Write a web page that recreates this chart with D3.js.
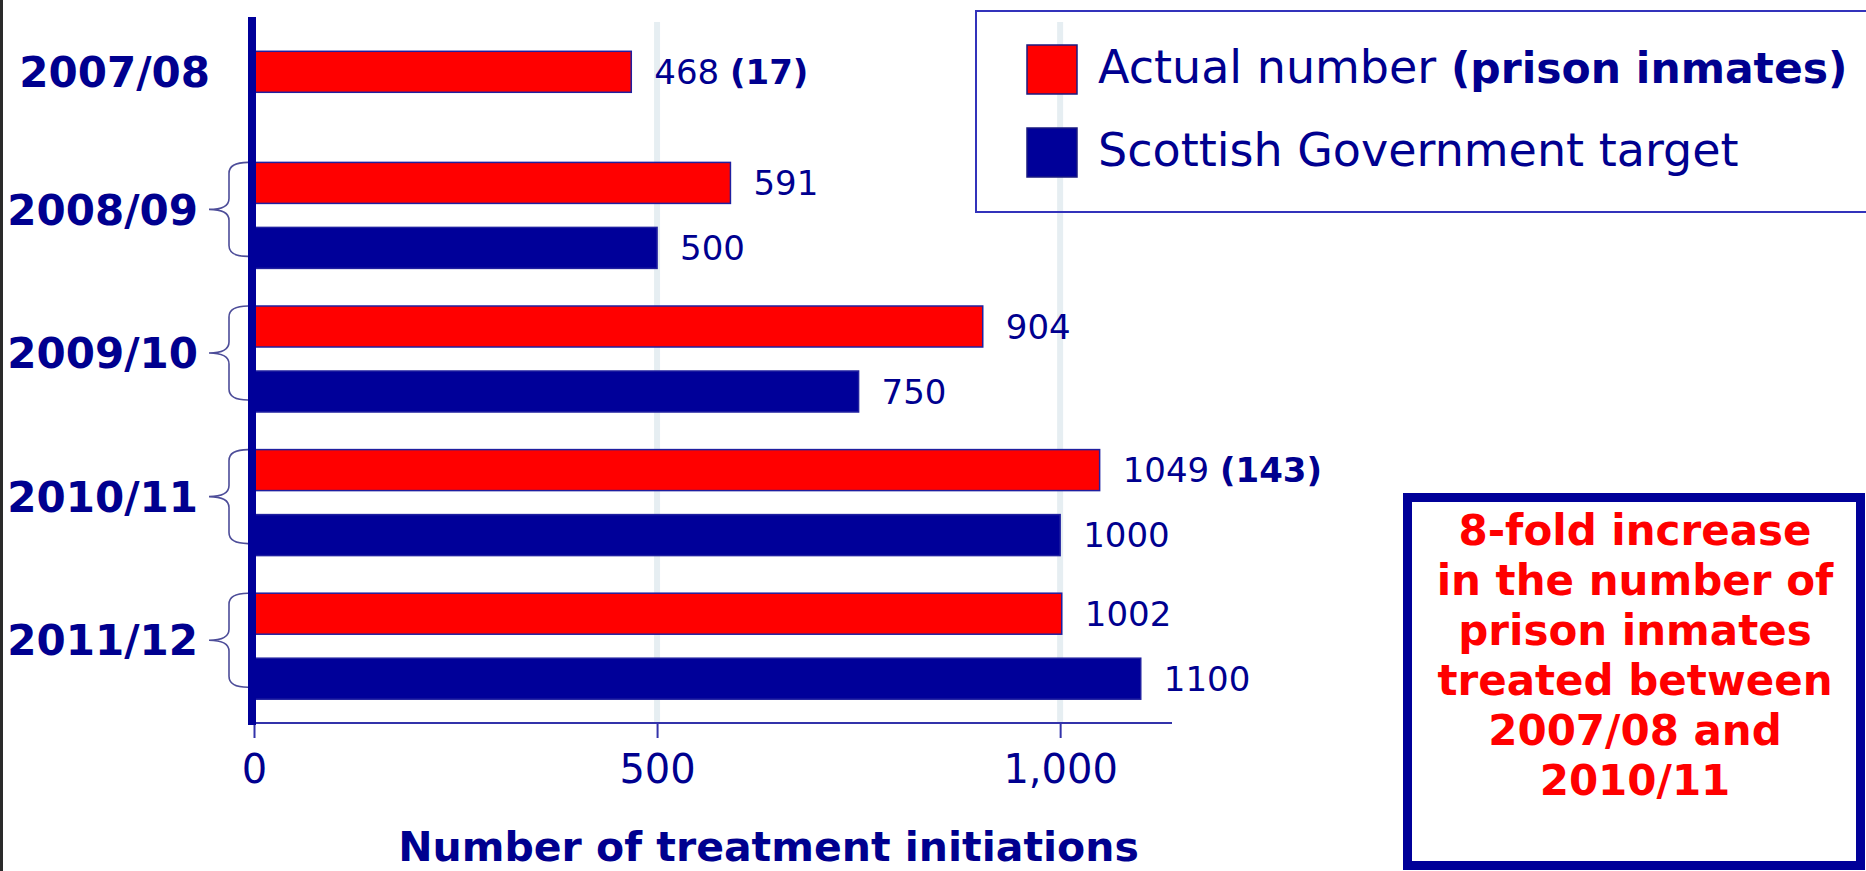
<!DOCTYPE html>
<html>
<head>
<meta charset="utf-8">
<script src="https://cdn.jsdelivr.net/npm/d3@7"></script>
<style>
  body { margin: 0; background: #fff; }
  svg { display: block; font-family: "DejaVu Sans", Verdana, sans-serif; }
</style>
</head>
<body>
<svg id="chart" width="1866" height="871"></svg>
<script>
// Data.
var years = ['2007/08', '2008/09', '2009/10', '2010/11', '2011/12'];
var actual = [468, 591, 904, 1049, 1002];
var target = [null, 500, 750, 1000, 1100];
var prisonInmates = [17, null, null, 143, null]; // shown in brackets
var xTicks = [0, 500, 1000];
var seriesNames = ['Actual number ', 'Scottish Government target'];
var noteLines = ['8-fold increase', 'in the number of', 'prison inmates',
                 'treated between', '2007/08 and', '2010/11'];

// Globals.
var WIDTH = 1866;
var HEIGHT = 871;
var NAVY = '#000099';
var TEXT_NAVY = '#00008f';
var RED = '#ff0000';
var BAR_HEIGHT = 41;
var BAR_GAP = 24;
var AXIS_X = 248;
var PLOT_BOTTOM = 723;

var svg = d3.select('#chart');

var x = d3.scaleLinear().domain([0, 1140]).range([254, 1173]);
var y = d3.scaleBand().domain(years).range([0, 718]).padding(0);

/**
 * groupData
 * =========
 * Builds one record per year with the bars that exist for it.
 */
var groupData = years.map(function(year, i) {
  var bars = [{key: 'actual', value: actual[i], extra: prisonInmates[i], color: RED}];
  if (target[i] !== null) {
    bars.push({key: 'target', value: target[i], extra: null, color: NAVY});
  }
  return {year: year, bars: bars};
});

// Left page edge.
svg.append('rect')
  .attr('x', 0).attr('y', 0).attr('width', 3).attr('height', HEIGHT)
  .attr('fill', '#2a2a2a');

// Gridlines.
svg.selectAll('line.grid')
  .data(xTicks.filter(function(d) { return d > 0; }))
  .enter()
  .append('line')
  .attr('class', 'grid')
  .attr('x1', function(d) { return x(d); })
  .attr('x2', function(d) { return x(d); })
  .attr('y1', 22)
  .attr('y2', PLOT_BOTTOM)
  .attr('stroke', '#e6eef2')
  .attr('stroke-width', 6);

// Bottom axis.
var xAxis = d3.axisBottom(x)
  .tickValues(xTicks)
  .tickFormat(d3.format(','))
  .tickSize(15)
  .tickSizeOuter(0)
  .tickPadding(17);

var gx = svg.append('g')
  .attr('transform', 'translate(0,' + PLOT_BOTTOM + ')')
  .call(xAxis);
gx.select('.domain').remove();
gx.selectAll('.tick line').attr('stroke', '#3333aa').attr('stroke-width', 2);
gx.selectAll('.tick text')
  .attr('fill', TEXT_NAVY)
  .attr('font-size', 40)
  .attr('font-family', '"DejaVu Sans", Verdana, sans-serif');
gx.append('line')
  .attr('x1', AXIS_X).attr('x2', x.range()[1] - 1)
  .attr('y1', 0).attr('y2', 0)
  .attr('stroke', '#3333aa').attr('stroke-width', 2);

// Axis title.
svg.append('text')
  .attr('x', (x.range()[0] + x.range()[1]) / 2 + 55)
  .attr('y', 861)
  .attr('text-anchor', 'middle')
  .attr('font-size', 41)
  .attr('font-weight', 'bold')
  .attr('fill', TEXT_NAVY)
  .text('Number of treatment initiations');

/**
 * bracePath
 * =========
 * Curly bracket pointing left, from yt to yb.
 */
var bracePath = function(yt, yb) {
  var xr = AXIS_X, xs = 229, xt = 209, r = 11;
  var ym = (yt + yb) / 2;
  return 'M' + xr + ',' + yt +
    'Q' + xs + ',' + yt + ' ' + xs + ',' + (yt + r) +
    'L' + xs + ',' + (ym - r) +
    'Q' + xs + ',' + ym + ' ' + xt + ',' + ym +
    'Q' + xs + ',' + ym + ' ' + xs + ',' + (ym + r) +
    'L' + xs + ',' + (yb - r) +
    'Q' + xs + ',' + yb + ' ' + xr + ',' + yb;
};

var groups = svg.selectAll('g.year')
  .data(groupData)
  .enter()
  .append('g')
  .attr('class', 'year');

groups.each(function(d) {
  var g = d3.select(this);
  var n = d.bars.length;
  var span = n * BAR_HEIGHT + (n - 1) * BAR_GAP;
  var center = y(d.year) + y.bandwidth() / 2;
  var inner = d3.scaleBand()
    .domain(d.bars.map(function(b) { return b.key; }))
    .range([center - span / 2, center + span / 2])
    .paddingInner(n > 1 ? BAR_GAP / (BAR_HEIGHT + BAR_GAP) : 0);

  var labelY = center;
  if (n > 1) {
    var yt = inner('actual');
    var yb = inner('target') + inner.bandwidth() - 12;
    g.append('path')
      .attr('d', bracePath(yt, yb))
      .attr('fill', 'none')
      .attr('stroke', '#4d4d99')
      .attr('stroke-width', 1.6);
    labelY = (yt + yb) / 2;
  }

  g.append('text')
    .attr('x', n > 1 ? 198 : AXIS_X - 38)
    .attr('y', labelY)
    .attr('dy', '0.36em')
    .attr('text-anchor', 'end')
    .attr('font-size', 42)
    .attr('font-weight', 'bold')
    .attr('fill', TEXT_NAVY)
    .text(d.year);

  g.selectAll('rect')
    .data(d.bars)
    .enter()
    .append('rect')
    .attr('x', x(0))
    .attr('y', function(b) { return inner(b.key); })
    .attr('width', function(b) { return x(b.value) - x(0); })
    .attr('height', inner.bandwidth())
    .attr('fill', function(b) { return b.color; })
    .attr('stroke', '#2020a0')
    .attr('stroke-width', 1.5);

  var labels = g.selectAll('text.value')
    .data(d.bars)
    .enter()
    .append('text')
    .attr('class', 'value')
    .attr('x', function(b) { return x(b.value) + 23; })
    .attr('y', function(b) { return inner(b.key) + inner.bandwidth() / 2; })
    .attr('dy', '0.36em')
    .attr('font-size', 34)
    .attr('fill', TEXT_NAVY);
  labels.append('tspan').text(function(b) { return b.value + (b.extra ? ' ' : ''); });
  labels.filter(function(b) { return b.extra; })
    .append('tspan')
    .attr('font-weight', 'bold')
    .text(function(b) { return '(' + b.extra + ')'; });
});

// Thick vertical axis.
svg.append('rect')
  .attr('x', AXIS_X).attr('y', 17)
  .attr('width', 8).attr('height', PLOT_BOTTOM + 2 - 17)
  .attr('fill', NAVY);

// Legend.
svg.append('rect')
  .attr('x', 976).attr('y', 11)
  .attr('width', WIDTH - 976 + 5).attr('height', 201)
  .attr('fill', 'none')
  .attr('stroke', '#3333bb')
  .attr('stroke-width', 2);

var legend = svg.selectAll('g.legend')
  .data(seriesNames)
  .enter()
  .append('g')
  .attr('class', 'legend')
  .attr('transform', function(d, i) { return 'translate(1027,' + (45 + i * 83) + ')'; });

legend.append('rect')
  .attr('width', 50).attr('height', 49)
  .attr('fill', function(d, i) { return i === 0 ? RED : NAVY; })
  .attr('stroke', '#1a1a80')
  .attr('stroke-width', 1.5);

var legendText = legend.append('text')
  .attr('x', 71)
  .attr('y', 38)
  .attr('font-size', 46)
  .attr('fill', TEXT_NAVY);
legendText.append('tspan').text(function(d) { return d; });
legendText.filter(function(d, i) { return i === 0; })
  .append('tspan')
  .attr('font-weight', 'bold')
  .attr('font-size', 42.5)
  .text('(prison inmates)');

// Note box.
svg.append('rect')
  .attr('x', 1407.5).attr('y', 497.5)
  .attr('width', 453).attr('height', 368)
  .attr('fill', '#fff')
  .attr('stroke', NAVY)
  .attr('stroke-width', 9);

svg.append('g')
  .selectAll('text')
  .data(noteLines)
  .enter()
  .append('text')
  .attr('x', 1635)
  .attr('y', function(d, i) { return 545 + i * 50; })
  .attr('text-anchor', 'middle')
  .attr('font-size', 42)
  .attr('font-weight', 'bold')
  .attr('fill', RED)
  .text(function(d) { return d; });
</script>
</body>
</html>
